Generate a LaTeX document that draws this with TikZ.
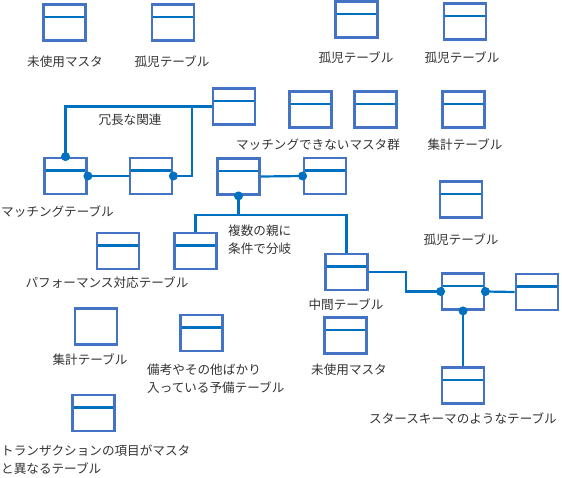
\documentclass[tikz,border=0pt]{standalone}
\usepackage{fontspec}
\setmainfont{Noto Sans CJK JP}
\definecolor{boxblue}{HTML}{4472C4}
\definecolor{linkblue}{HTML}{0070C0}

\begin{document}
\begin{tikzpicture}[x=1pt,y=-1pt,
  plain/.style={draw=boxblue,line width=2.8pt,fill=white,minimum width=42pt,minimum height=36pt,inner sep=0pt},
  tbl/.style={plain,path picture={\draw[linkblue,line width=2.2pt]
    ([yshift=-12.5pt]path picture bounding box.north west) -- ([yshift=-12.5pt]path picture bounding box.north east);}},
  lbl/.style={font=\fontsize{12.6}{18}\selectfont,text=black!80,inner sep=0pt,align=left},
  link/.style={draw=linkblue,line width=2.2pt},
  dot/.style={fill=linkblue}]
\useasboundingbox (0,0) rectangle (562,477);

% tables
\node[tbl] (b1) at (64.5,22.5) {};
\node[tbl] (b2) at (173,22.5) {};
\node[tbl] (b3) at (356.5,19.5) {};
\node[tbl] (b4) at (465,21.5) {};
\node[tbl] (b5) at (234,106.5) {};
\node[tbl] (b6) at (310.5,109.5) {};
\node[tbl] (b7) at (375.5,109.5) {};
\node[tbl] (b8) at (463.5,109.5) {};
\node[tbl] (m1) at (65.5,176) {};
\node[tbl] (m2) at (151,176) {};
\node[tbl] (m3) at (238.5,176.5) {};
\node[tbl] (m4) at (325,176) {};
\node[tbl] (b9) at (461,199.5) {};
\node[tbl] (pf) at (118,251) {};
\node[tbl] (c1) at (195.5,251) {};
\node[tbl] (mid) at (346.5,272) {};
\node[tbl] (s) at (463,291.5) {};
\node[tbl] (sr) at (537,292) {};
\node[tbl] (sb) at (463,385.5) {};
\node[tbl] (u2) at (345.5,335.5) {};
\node[plain] (sm) at (96,326.5) {};
\node[tbl] (bk) at (201.5,333) {};
\node[tbl] (tr) at (93.5,413) {};

% labels
\node[lbl] (l1) at (65,62) {未使用マスタ};
\node[lbl] (l2) at (172,62) {孤児テーブル};
\node[lbl] (l3) at (356,58) {孤児テーブル};
\node[lbl] (l4) at (462,58) {孤児テーブル};
\node[lbl] (l5) at (130,120) {冗長な関連};
\node[lbl] (l6) at (318,145) {マッチングできないマスタ群};
\node[lbl] (l7) at (465,145) {集計テーブル};
\node[lbl,anchor=west] (l8) at (1,212) {マッチングテーブル};
\node[lbl] (l9) at (461,240) {孤児テーブル};
\node[lbl] (l10) at (107,283) {パフォーマンス対応テーブル};
\node[lbl,anchor=west] (l11) at (228,240) {複数の親に\\条件で分岐};
\node[lbl] (l12) at (346,305) {中間テーブル};
\node[lbl] (l13) at (349,370) {未使用マスタ};
\node[lbl] (l14) at (463,418) {スタースキーマのようなテーブル};
\node[lbl] (l15) at (90,360) {集計テーブル};
\node[lbl,anchor=west] (l16) at (147,379) {備考やその他ばかり\\入っている予備テーブル};
\node[lbl,anchor=west] (l17) at (1,460) {トランザクションの項目がマスタ\\と異なるテーブル};

% connectors
\coordinate (jr) at (192,106.5);
\coordinate (jb) at (196,215);
\draw[link] (m1.north) |- (b5.west);
\draw[link] (m2.east) -| (jr);
\draw[link] (m1.east) -- (m2.west);
\draw[link] (m3.east) -- (m4.west);
\draw[link] (m3.south) -- (m3.south |- jb);
\draw[link] (c1.north) |- (mid.north |- jb) -- (mid.north);
\draw[link] (mid.east) -- ++(37,0) |- (s.west);
\draw[link] (s.east) -- (sr.west);
\draw[link] (s.south) -- (sb.north);
\foreach \p in {m1.north,m1.east,m2.east,m3.south,m4.west,s.west,s.east,s.south}
  \fill[dot] (\p) circle (4.5pt);
\end{tikzpicture}
\end{document}
